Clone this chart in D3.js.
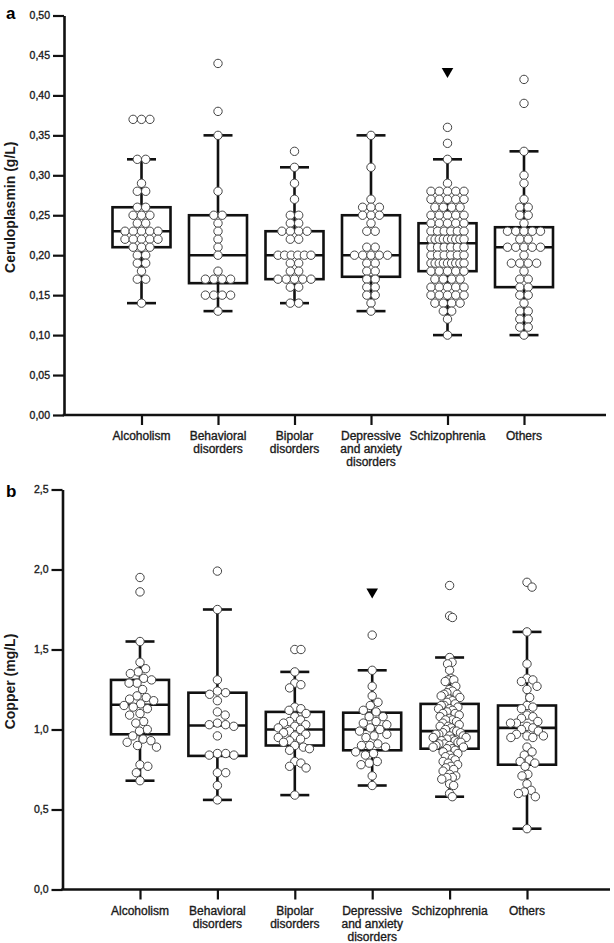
<!DOCTYPE html>
<html>
<head>
<meta charset="utf-8">
<script src="https://cdn.jsdelivr.net/npm/d3@7"></script>
<style>
  body { margin: 0; background: #fff; }
  svg text { font-family: "Liberation Sans", Arial, Helvetica, sans-serif; fill: #1a1a1a; }
  .heavy { stroke: #1a1a1a; stroke-width: 0.35px; }
</style>
</head>
<body>
<div id="chart"></div>
<script>
// categories and their (wrapped) tick labels
const groups = ["Alcoholism", "Behavioral disorders", "Bipolar disorders",
  "Depressive and anxiety disorders", "Schizophrenia", "Others"];
const groupLabels = [["Alcoholism"], ["Behavioral", "disorders"], ["Bipolar", "disorders"],
  ["Depressive", "and anxiety", "disorders"], ["Schizophrenia"], ["Others"]];

// y ticks
const ceruTicks = [0, 0.05, 0.10, 0.15, 0.20, 0.25, 0.30, 0.35, 0.40, 0.45, 0.50];
const copperTicks = [0, 0.5, 1.0, 1.5, 2.0, 2.5];

// panel a - ceruloplasmin (g/L), one value per patient
const ceruAlcoholism = [0.37, 0.37, 0.37, 0.32, 0.32, 0.29, 0.28, 0.28, 0.26, 0.26, 0.25, 0.25, 0.25,
  0.24, 0.24, 0.23, 0.23, 0.23, 0.23, 0.23, 0.22, 0.22, 0.22, 0.22, 0.22, 0.21, 0.21, 0.21,
  0.20, 0.20, 0.19, 0.19, 0.18, 0.17, 0.17, 0.14];
const ceruBehavioral = [0.44, 0.38, 0.35, 0.28, 0.25, 0.25, 0.24, 0.23, 0.22, 0.21, 0.20, 0.18,
  0.17, 0.17, 0.17, 0.17, 0.15, 0.15, 0.15, 0.15, 0.13];
const ceruBipolar = [0.33, 0.31, 0.29, 0.27, 0.25, 0.25, 0.24, 0.24, 0.23, 0.23, 0.23, 0.23, 0.22, 0.22,
  0.20, 0.20, 0.20, 0.20, 0.20, 0.20, 0.19, 0.19, 0.18, 0.18, 0.17, 0.17, 0.17, 0.17, 0.17,
  0.16, 0.16, 0.14, 0.14];
const ceruDepressive = [0.35, 0.31, 0.27, 0.26, 0.26, 0.26, 0.25, 0.25, 0.25, 0.24, 0.23, 0.23, 0.21, 0.21,
  0.20, 0.20, 0.20, 0.20, 0.20, 0.19, 0.19, 0.18, 0.18, 0.17, 0.17, 0.16, 0.16, 0.15, 0.15, 0.14, 0.13];
const ceruSchizophrenia = [0.36, 0.34, 0.32, 0.29,
  0.28, 0.28, 0.28, 0.28, 0.28, 0.27, 0.27, 0.27, 0.27, 0.27, 0.26, 0.26, 0.26, 0.26,
  0.25, 0.25, 0.25, 0.25, 0.25, 0.24, 0.24, 0.24, 0.24, 0.24, 0.23, 0.23, 0.23, 0.23, 0.23, 0.23,
  0.22, 0.22, 0.22, 0.22, 0.22, 0.22, 0.22, 0.22, 0.22, 0.21, 0.21, 0.21, 0.21, 0.21, 0.21,
  0.20, 0.20, 0.20, 0.20, 0.20, 0.20, 0.19, 0.19, 0.19, 0.19, 0.19, 0.19, 0.19, 0.19, 0.19,
  0.18, 0.18, 0.18, 0.18, 0.18, 0.17, 0.17, 0.17, 0.17, 0.16, 0.16, 0.16, 0.16, 0.16,
  0.15, 0.15, 0.15, 0.15, 0.15, 0.14, 0.14, 0.14, 0.14, 0.13, 0.13, 0.12, 0.10];
const ceruOthers = [0.42, 0.39, 0.33, 0.30, 0.29, 0.27, 0.26, 0.26, 0.25, 0.25, 0.24,
  0.23, 0.23, 0.23, 0.23, 0.23, 0.22, 0.22, 0.21, 0.21, 0.21, 0.21, 0.21, 0.20,
  0.19, 0.19, 0.19, 0.19, 0.18, 0.17, 0.17, 0.16, 0.16, 0.15, 0.15, 0.14,
  0.13, 0.13, 0.12, 0.12, 0.11, 0.11, 0.10];

// box plots: [whisker low, Q1, median, Q3, whisker high]
const ceruBoxes = [
  [0.14, 0.21, 0.23, 0.26, 0.32],
  [0.13, 0.165, 0.20, 0.25, 0.35],
  [0.14, 0.17, 0.20, 0.23, 0.31],
  [0.13, 0.173, 0.20, 0.25, 0.35],
  [0.10, 0.18, 0.215, 0.24, 0.32],
  [0.10, 0.16, 0.21, 0.235, 0.33]
];
const ceruMarks = [{ group: "Schizophrenia", value: 0.43 }];

// panel b - copper (mg/L)
const copperAlcoholism = [1.95, 1.86, 1.55, 1.42, 1.38, 1.36, 1.35, 1.32, 1.31, 1.29, 1.29, 1.25,
  1.21, 1.20, 1.19, 1.18, 1.16, 1.15, 1.14, 1.13, 1.10, 1.09, 1.05, 1.04, 1.00, 0.99,
  0.96, 0.94, 0.93, 0.92, 0.90, 0.89, 0.78, 0.77, 0.73, 0.68];
const copperBehavioral = [1.99, 1.75, 1.31, 1.24, 1.23, 1.22, 1.18, 1.11, 1.09, 1.04, 1.03, 1.03, 1.02,
  0.96, 0.85, 0.85, 0.84, 0.84, 0.73, 0.73, 0.65, 0.56];
const copperBipolar = [1.50, 1.50, 1.36, 1.29, 1.28, 1.26, 1.14, 1.13, 1.12, 1.10, 1.08, 1.06, 1.05,
  1.04, 1.03, 1.02, 1.01, 1.00, 0.99, 0.98, 0.97, 0.96, 0.95, 0.94, 0.93, 0.92, 0.90, 0.89,
  0.88, 0.87, 0.80, 0.79, 0.77, 0.76, 0.59];
const copperDepressive = [1.59, 1.37, 1.27, 1.21, 1.17, 1.15, 1.12, 1.11, 1.08, 1.08, 1.05, 1.04, 1.03,
  1.01, 1.00, 0.99, 0.97, 0.96, 0.95, 0.91, 0.90, 0.90, 0.89, 0.86, 0.85, 0.84, 0.80, 0.79,
  0.78, 0.71, 0.65];
const copperSchizophrenia = [1.90, 1.71, 1.70, 1.45, 1.42, 1.41, 1.37, 1.32, 1.31, 1.31, 1.30, 1.27,
  1.25, 1.24, 1.23, 1.22, 1.22, 1.21, 1.20, 1.19, 1.18, 1.17,
  1.16, 1.15, 1.15, 1.14, 1.13, 1.13, 1.12, 1.11, 1.10, 1.10, 1.09, 1.08, 1.07, 1.06, 1.06,
  1.05, 1.04, 1.03, 1.02, 1.02, 1.01, 1.00, 0.99,
  0.99, 0.98, 0.98, 0.97, 0.97, 0.96, 0.96, 0.95, 0.95, 0.94, 0.94, 0.93, 0.93, 0.92, 0.92,
  0.91, 0.91, 0.90, 0.90, 0.89, 0.89, 0.88, 0.88,
  0.87, 0.86, 0.85, 0.84, 0.83, 0.82, 0.81, 0.80, 0.79, 0.78, 0.77, 0.76, 0.75, 0.74,
  0.72, 0.71, 0.70, 0.70, 0.69, 0.66, 0.65, 0.60, 0.58];
const copperOthers = [1.92, 1.89, 1.61, 1.41, 1.32, 1.31, 1.30, 1.27, 1.25, 1.20, 1.15, 1.14, 1.13,
  1.09, 1.08, 1.07, 1.05, 1.04, 1.04, 1.02, 1.01, 1.00, 0.99, 0.97, 0.96, 0.96, 0.95, 0.95,
  0.89, 0.86, 0.84, 0.81, 0.80, 0.79, 0.77, 0.72, 0.71, 0.66, 0.62, 0.61, 0.60, 0.58, 0.38];
const copperBoxes = [
  [0.68, 0.97, 1.155, 1.31, 1.55],
  [0.56, 0.835, 1.025, 1.23, 1.75],
  [0.59, 0.90, 1.00, 1.11, 1.36],
  [0.65, 0.87, 1.00, 1.105, 1.37],
  [0.58, 0.88, 0.99, 1.16, 1.45],
  [0.38, 0.78, 1.01, 1.15, 1.61]
];
const copperMarks = [{ group: "Depressive and anxiety disorders", value: 1.86 }];

const ceruValues = [ceruAlcoholism, ceruBehavioral, ceruBipolar, ceruDepressive, ceruSchizophrenia, ceruOthers];
const copperValues = [copperAlcoholism, copperBehavioral, copperBipolar, copperDepressive, copperSchizophrenia, copperOthers];

const comma = d3.formatLocale({ decimal: ",", thousands: ".", grouping: [3], currency: ["", ""] });

const W = 614, H = 943;
const R = 4.2;           // dot radius
const INK = "#111";
const LW = 2.6;

const svg = d3.select("#chart").append("svg")
  .attr("width", W).attr("height", H);

// dots on the same value sit side by side in a row (panel a)
function rowLayout(vals, y) {
  const out = [];
  d3.group(vals, v => v).forEach((list, v) => {
    const n = list.length;
    const step = n > 1 ? Math.min(2 * R, 33 / (n - 1)) : 0;
    list.forEach((_, i) => out.push({ v, x: (i - (n - 1) / 2) * step, y: y(v) }));
  });
  return out;
}

// greedy beeswarm, squeezed sideways if it gets too wide (panel b)
function swarmLayout(vals, y, maxHalf) {
  const pts = vals.map(v => ({ v, y: y(v), x: 0 })).sort((a, b) => a.y - b.y);
  const d = 2 * R + 0.6;
  const placed = [];
  pts.forEach(p => {
    const cands = [0];
    placed.forEach(q => {
      const dy = Math.abs(q.y - p.y);
      if (dy < d) {
        const dx = Math.sqrt(d * d - dy * dy);
        cands.push(q.x + dx, q.x - dx);
      }
    });
    cands.sort((a, b) => Math.abs(a) - Math.abs(b));
    for (const c of cands) {
      if (placed.every(q => (q.x - c) ** 2 + (q.y - p.y) ** 2 >= d * d - 0.01)) { p.x = c; break; }
    }
    placed.push(p);
  });
  const m = d3.max(pts, p => Math.abs(p.x));
  if (m > maxHalf) pts.forEach(p => { p.x *= maxHalf / m; });
  return pts;
}

function drawPanel(cfg) {
  const g = svg.append("g");

  const y = d3.scaleLinear().domain(cfg.domain).range([cfg.bottom, cfg.top]);
  const x = d3.scalePoint().domain(groups).range(cfg.xRange);

  // y axis
  const ya = g.append("g")
    .attr("transform", `translate(${cfg.left},0)`)
    .call(d3.axisLeft(y).tickValues(cfg.ticks).tickSize(11).tickSizeOuter(0).tickPadding(3)
      .tickFormat(comma.format(cfg.fmt)));
  ya.select(".domain").attr("stroke", INK).attr("stroke-width", LW);
  ya.selectAll(".tick line").attr("stroke", INK).attr("stroke-width", 2.2);
  ya.selectAll(".tick text").attr("font-size", 10.5).attr("class", "heavy").style("fill", "#222");

  // x axis
  const xa = g.append("g")
    .attr("transform", `translate(0,${cfg.bottom})`)
    .call(d3.axisBottom(x).tickSize(10).tickSizeOuter(0).tickFormat(""));
  xa.select(".domain").remove();
  xa.selectAll(".tick line").attr("stroke", INK).attr("stroke-width", 2.2);
  xa.append("line")
    .attr("x1", cfg.left - LW / 2).attr("x2", cfg.right)
    .attr("stroke", INK).attr("stroke-width", LW);

  const lab = g.append("g").selectAll("text")
    .data(groups)
    .join("text")
    .attr("class", "heavy")
    .attr("text-anchor", "middle")
    .attr("font-size", 12)
    .attr("transform", d => `translate(${x(d)},${cfg.bottom + 25})`);
  lab.selectAll("tspan")
    .data((d, i) => groupLabels[i])
    .join("tspan")
    .attr("x", 0)
    .attr("dy", (d, i) => i === 0 ? 0 : 13)
    .text(d => d);

  // axis title and panel letter
  g.append("text")
    .attr("transform", `translate(${cfg.titleX},${(cfg.top + cfg.bottom) / 2 - 8}) rotate(-90)`)
    .attr("text-anchor", "middle")
    .attr("font-size", 14)
    .attr("font-weight", 700)
    .text(cfg.title);
  g.append("text")
    .attr("x", 6).attr("y", cfg.letterY)
    .attr("font-size", 17)
    .attr("font-weight", 700)
    .style("fill", "#000")
    .text(cfg.letter);

  // boxes and whiskers
  const bw = 29, cap = 14.5;
  const box = g.append("g").selectAll("g")
    .data(cfg.boxes)
    .join("g")
    .attr("transform", (d, i) => `translate(${x(groups[i])},0)`)
    .attr("stroke", INK).attr("stroke-width", LW).attr("fill", "none");
  box.append("line")
    .attr("y1", d => y(d[0])).attr("y2", d => y(d[1]));
  box.append("line")
    .attr("y1", d => y(d[3])).attr("y2", d => y(d[4]));
  box.append("line").attr("x1", -cap).attr("x2", cap)
    .attr("y1", d => y(d[0])).attr("y2", d => y(d[0]));
  box.append("line").attr("x1", -cap).attr("x2", cap)
    .attr("y1", d => y(d[4])).attr("y2", d => y(d[4]));
  box.append("rect")
    .attr("x", -bw).attr("width", 2 * bw)
    .attr("y", d => y(d[3])).attr("height", d => y(d[1]) - y(d[3]));
  box.append("line").attr("x1", -bw).attr("x2", bw)
    .attr("y1", d => y(d[2])).attr("y2", d => y(d[2]));

  // dots
  cfg.values.forEach((vals, i) => {
    const pts = cfg.layout(vals, y);
    g.append("g")
      .attr("transform", `translate(${x(groups[i])},0)`)
      .selectAll("circle")
      .data(pts)
      .join("circle")
      .attr("cx", d => d.x)
      .attr("cy", d => d.y)
      .attr("r", R)
      .attr("fill", "#fff")
      .attr("stroke", "#444")
      .attr("stroke-width", 1);
  });

  // significance triangles
  g.selectAll("path.mark")
    .data(cfg.marks)
    .join("path")
    .attr("class", "mark")
    .attr("d", d3.symbol(d3.symbolTriangle, 58))
    .attr("transform", d => `translate(${x(d.group)},${y(d.value)}) rotate(180)`)
    .attr("fill", "#000");
}

drawPanel({
  letter: "a", letterY: 19,
  title: "Ceruloplasmin (g/L)", titleX: 15,
  domain: [0, 0.5], ticks: ceruTicks, fmt: ".2f",
  top: 15.5, bottom: 415, left: 64, right: 606,
  xRange: [141.5, 524],
  boxes: ceruBoxes, values: ceruValues, marks: ceruMarks,
  layout: rowLayout
});

drawPanel({
  letter: "b", letterY: 497,
  title: "Copper (mg/L)", titleX: 15,
  domain: [0, 2.5], ticks: copperTicks, fmt: ".1f",
  top: 489.5, bottom: 889.5, left: 62.5, right: 610,
  xRange: [140, 527],
  boxes: copperBoxes, values: copperValues, marks: copperMarks,
  layout: (vals, y) => swarmLayout(vals, y, 16.5)
});
</script>
</body>
</html>
